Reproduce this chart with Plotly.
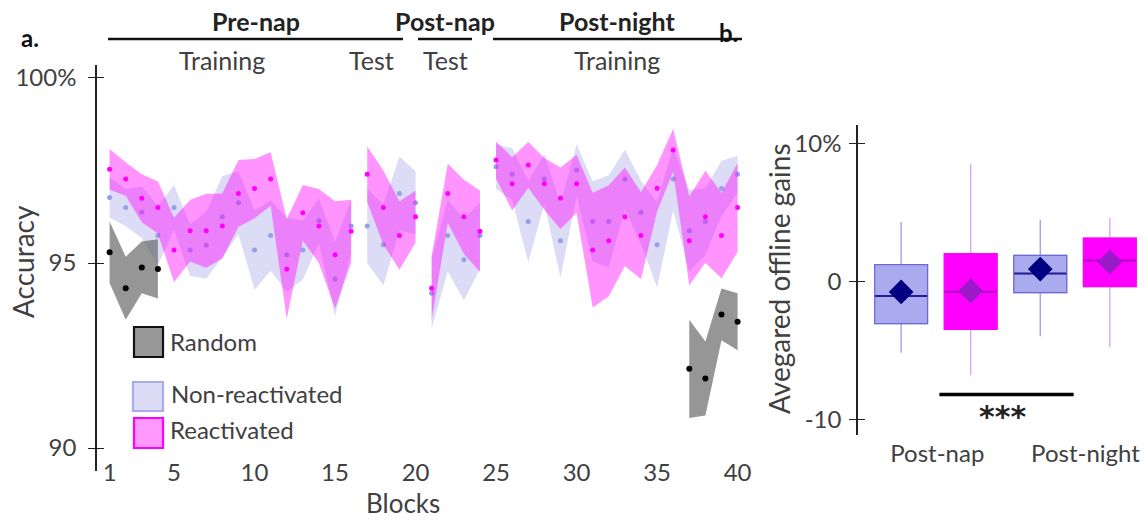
import plotly.graph_objects as go

W, H = 1148, 522

# ---------------- Panel a data ----------------
blocks = list(range(1, 41))
segments = [(1, 16), (17, 20), (21, 24), (25, 40)]

react_mean = [97.53, 97.27, 96.75, 96.50, 95.35, 95.87, 95.87, 96.00, 96.88, 97.01,
              97.27, 94.84, 96.36, 96.00, 95.22, 95.86, 97.40, 96.50, 95.74, 96.25,
              94.32, 96.88, 96.25, 95.86, 97.78, 97.14, 97.65, 97.14, 96.75, 97.14,
              95.35, 95.60, 96.25, 95.74, 97.02, 98.05, 95.60, 96.25, 95.74, 96.50]
react_sem = [0.55, 0.45, 0.65, 0.70, 0.87, 0.83, 1.00, 0.88, 0.90, 0.80,
             0.72, 1.35, 0.75, 1.00, 1.45, 0.85, 0.75, 1.00, 0.92, 0.70,
             0.86, 0.80, 1.00, 1.10, 0.50, 0.72, 0.62, 0.70, 0.83, 0.78,
             1.55, 1.50, 1.33, 1.17, 0.63, 0.58, 1.20, 1.24, 1.15, 1.20]

nonreact_mean = [96.77, 96.50, 96.37, 95.74, 96.50, 95.35, 95.48, 96.25, 96.63, 95.35,
                 95.74, 95.22, 95.35, 96.14, 94.57, 96.00, 96.00, 95.49, 96.88, 96.63,
                 94.18, 95.74, 95.09, 95.74, 97.60, 97.40, 96.12, 97.27, 95.60, 97.51,
                 96.12, 96.12, 97.26, 96.37, 95.49, 97.27, 95.87, 96.12, 97.01, 97.40]
nonreact_sem = [0.55, 0.50, 0.70, 0.80, 0.60, 0.70, 0.90, 1.10, 0.85, 1.07,
                0.95, 1.00, 0.80, 0.60, 1.00, 0.70, 1.00, 1.10, 1.00, 0.85,
                0.95, 0.96, 1.10, 0.90, 0.60, 0.70, 1.10, 0.67, 1.00, 0.70,
                1.08, 1.25, 0.80, 0.85, 1.15, 0.85, 1.10, 0.90, 0.75, 0.50]

random_segments = [[1, 2, 3, 4], [37, 38, 39, 40]]
random_mean = [[95.29, 94.32, 94.88, 94.84], [92.14, 91.88, 93.61, 93.41]]
random_sem = [[0.83, 0.85, 0.70, 0.80], [1.33, 1.00, 0.70, 0.77]]

x_ticks = [1, 5, 10, 15, 20, 25, 30, 35, 40]
y_ticks = [90, 95, 100]
y_ticktext = ["90", "95", "100%"]

# ---------------- Panel b data ----------------
box_pos = [0, 1, 2, 3]
box_q1 = [-3.07, -3.48, -0.82, -0.38]
box_median = [-1.06, -0.75, 0.56, 1.50]
box_q3 = [1.21, 2.00, 1.88, 3.14]
box_low = [-5.17, -6.81, -3.99, -4.76]
box_high = [4.30, 8.53, 4.47, 4.61]
box_mean = [-0.77, -0.70, 0.89, 1.40]
box_group = ["non", "react", "non", "react"]
b_ticks = [0.52, 2.65]
b_ticktext = ["Post-nap", "Post-night"]
b_yticks = [-10, 0, 10]
b_yticktext = ["-10", "0", "10%"]
sig_y = -8.2
sig_x = [0.55, 2.48]

FONT = "Lato"
TXT = "#404040"

fig = go.Figure()


def band(xs, m, s, fill, xa="x", ya="y"):
    up = [a + b for a, b in zip(m, s)]
    lo = [a - b for a, b in zip(m, s)]
    fig.add_trace(go.Scatter(x=xs + xs[::-1], y=up + lo[::-1], fill="toself",
                             fillcolor=fill, line=dict(width=0), mode="lines",
                             hoverinfo="skip", showlegend=False, xaxis=xa, yaxis=ya))


# non-reactivated band + dots
for a, b in segments:
    i0, i1 = a - 1, b
    band(blocks[i0:i1], nonreact_mean[i0:i1], nonreact_sem[i0:i1], "rgba(120,120,220,0.26)")
fig.add_trace(go.Scatter(x=blocks, y=nonreact_mean, mode="markers",
                         marker=dict(size=5, color="rgb(150,160,232)"),
                         showlegend=False, hoverinfo="skip"))
# reactivated band + dots
for a, b in segments:
    i0, i1 = a - 1, b
    band(blocks[i0:i1], react_mean[i0:i1], react_sem[i0:i1], "rgba(255,0,255,0.42)")
fig.add_trace(go.Scatter(x=blocks, y=react_mean, mode="markers",
                         marker=dict(size=5, color="#FF00FF"),
                         showlegend=False, hoverinfo="skip"))
# random
for xs, m, s in zip(random_segments, random_mean, random_sem):
    band(xs, m, s, "rgba(100,100,100,0.68)")
    fig.add_trace(go.Scatter(x=xs, y=m, mode="markers",
                             marker=dict(size=6, color="black"),
                             showlegend=False, hoverinfo="skip"))

# overlay axis for crossing ticks (left)
fig.add_trace(go.Scatter(x=[None], y=[None], xaxis="x", yaxis="y3",
                         showlegend=False, hoverinfo="skip"))

# ---------------- Panel b boxes ----------------
styles = {
    "non": dict(fill="#AAAAEE", border="#6A6AD2", whisk="#9C9CE0", med="#202090", mean="#000080"),
    "react": dict(fill="#FF00FF", border="#FF00FF", whisk="#DCA0F2", med="#B400C0", mean="#9A1AC8"),
}
for p, q1, md, q3, lo, hi, mn, g in zip(box_pos, box_q1, box_median, box_q3,
                                        box_low, box_high, box_mean, box_group):
    st = styles[g]
    fig.add_trace(go.Box(x=[p], q1=[q1], median=[md], q3=[q3], lowerfence=[lo],
                         upperfence=[hi], width=0.76, whiskerwidth=0,
                         fillcolor="rgba(0,0,0,0)", line=dict(color=st["whisk"], width=1.3),
                         xaxis="x2", yaxis="y2", showlegend=False, hoverinfo="skip",
                         boxpoints=False))
    fig.add_trace(go.Box(x=[p], q1=[q1], median=[md], q3=[q3], lowerfence=[q1],
                         upperfence=[q3], width=0.76, whiskerwidth=0,
                         fillcolor=st["fill"], line=dict(color=st["border"], width=1.2),
                         xaxis="x2", yaxis="y2", showlegend=False, hoverinfo="skip",
                         boxpoints=False))
    fig.add_trace(go.Scatter(x=[p - 0.375, p + 0.375], y=[md, md], mode="lines",
                             line=dict(color=st["med"], width=2), xaxis="x2", yaxis="y2",
                             showlegend=False, hoverinfo="skip"))
    fig.add_trace(go.Scatter(x=[p], y=[mn], mode="markers",
                             marker=dict(symbol="diamond", size=19, color=st["mean"]),
                             xaxis="x2", yaxis="y2", showlegend=False, hoverinfo="skip"))

fig.add_trace(go.Scatter(x=sig_x, y=[sig_y, sig_y], mode="lines",
                         line=dict(color="black", width=3.5), xaxis="x2", yaxis="y2",
                         showlegend=False, hoverinfo="skip"))
fig.add_trace(go.Scatter(x=[None], y=[None], xaxis="x2", yaxis="y4",
                         showlegend=False, hoverinfo="skip"))


def px(x):
    return x / W


def py(y):
    return 1 - y / H


tickfont = dict(family=FONT, size=24, color=TXT)
ax_common = dict(showgrid=False, zeroline=False)

fig.update_layout(
    width=W, height=H, margin=dict(l=0, r=0, t=0, b=0),
    paper_bgcolor="white", plot_bgcolor="white", showlegend=False,
    template="none",
    xaxis=dict(domain=[px(97), px(745)], range=[0.217, 40.46], tickvals=x_ticks,
               showline=False, ticks="", tickfont=tickfont, anchor="y",
               ticklabelstandoff=-15, **ax_common),
    yaxis=dict(domain=[py(471), py(65)], range=[89.38, 100.35], tickvals=y_ticks,
               ticktext=y_ticktext, showline=True, linecolor="#222", linewidth=1.5,
               ticks="outside", ticklen=7, tickwidth=1.3, tickcolor="#222",
               tickfont=tickfont, anchor="x", ticklabelstandoff=7, **ax_common),
    yaxis3=dict(domain=[py(471), py(65)], range=[89.38, 100.35], tickvals=y_ticks,
                overlaying="y", anchor="x", showline=False, showticklabels=False,
                ticks="inside", ticklen=7, tickwidth=1.3, tickcolor="#222", **ax_common),
    xaxis2=dict(domain=[px(858), px(1146)], range=[-0.62, 3.52], tickvals=b_ticks,
                ticktext=b_ticktext, showline=False, ticks="", tickfont=tickfont,
                anchor="y2", ticklabelstandoff=2, **ax_common),
    yaxis2=dict(domain=[py(435), py(125)], range=[-11.14, 11.33], tickvals=b_yticks,
                ticktext=b_yticktext, showline=True, linecolor="#222", linewidth=1.5,
                ticks="outside", ticklen=7, tickwidth=1.3, tickcolor="#222",
                tickfont=tickfont, anchor="x2", ticklabelstandoff=3, **ax_common),
    yaxis4=dict(domain=[py(435), py(125)], range=[-11.14, 11.33], tickvals=b_yticks,
                overlaying="y2", anchor="x2", showline=False, showticklabels=False,
                ticks="inside", ticklen=7, tickwidth=1.3, tickcolor="#222", **ax_common),
)

ann = []


def text(x, y, t, size=24, bold=False, angle=0, xanchor="center", color=TXT, yanchor="middle"):
    ann.append(dict(x=px(x), y=py(y), xref="paper", yref="paper", text=(f"<b>{t}</b>" if bold else t),
                    showarrow=False, xanchor=xanchor, yanchor=yanchor, textangle=angle,
                    font=dict(family=FONT, size=size, color=color)))


text(403, 521, "Blocks", size=26, yanchor="bottom")
text(23, 262, "Accuracy", size=28, angle=-90)
text(779, 279, "Avegared offline gains", size=28, angle=-90)
text(30, 38, "a.", size=24, bold=True, color="#111")
text(729, 33, "b.", size=24, bold=True, color="#111")
text(256, 21, "Pre-nap", size=25, bold=True, color="#222")
text(445, 21, "Post-nap", size=25, bold=True, color="#222")
text(617, 21, "Post-night", size=25, bold=True, color="#222")
text(222, 60, "Training", size=25)
text(371, 60, "Test", size=25)
text(445, 60, "Test", size=25)
text(617, 60, "Training", size=25)
# legend
text(168, 341, "Random", size=24, xanchor="left")
text(169, 393, "Non-reactivated", size=24, xanchor="left")
text(168, 429, "Reactivated", size=24, xanchor="left")
# significance stars
ann.append(dict(x=1.45, y=-9.8, xref="x2", yref="y2", text="<b>***</b>", showarrow=False,
                font=dict(family="DejaVu Sans", size=30, color="#222"), yanchor="middle"))

shapes = []
for x0, x1 in [(108, 403), (418, 472), (493, 742)]:
    shapes.append(dict(type="line", xref="paper", yref="paper", x0=px(x0), x1=px(x1),
                       y0=py(39), y1=py(39), line=dict(color="#111", width=2.5)))
for (x0, y0, x1, y1), fc, lc in [((134, 327, 163, 357), "#999999", "#111"),
                                 ((133, 382, 163, 411), "#DCDCF6", "#AAAAEE"),
                                 ((134, 418, 163, 448), "#FF99FF", "#FF00FF")]:
    shapes.append(dict(type="rect", xref="paper", yref="paper", x0=px(x0), x1=px(x1),
                       y0=py(y1), y1=py(y0), fillcolor=fc, line=dict(color=lc, width=2.2)))

fig.update_layout(annotations=ann, shapes=shapes)
fig.write_html("out.html")
